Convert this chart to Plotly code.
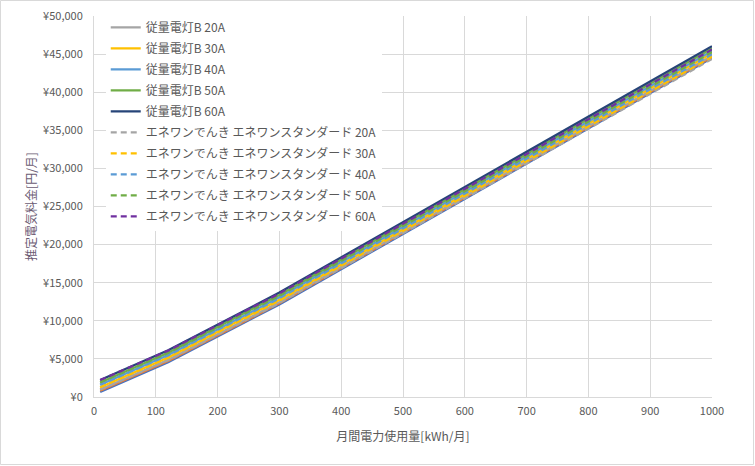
import plotly.graph_objects as go

# usage points (kWh/month)
usage = [10, 120, 300, 500, 700, 1000]

# 従量電灯B (yen/month)
b_10a = [667, 4572, 12150, 21388, 30626, 44483]
b_15a = [823, 4728, 12306, 21544, 30782, 44639]
b_20a = [979, 4884, 12462, 21700, 30938, 44795]
b_30a = [1290, 5195, 12773, 22011, 31249, 45106]
b_40a = [1602, 5507, 13085, 22323, 31561, 45418]
b_50a = [1914, 5819, 13397, 22635, 31873, 45730]
b_60a = [2226, 6131, 13709, 22947, 32185, 46042]

# エネワンでんき エネワンスタンダード (yen/month)
e_20a = [975, 4841, 12344, 21489, 30634, 44353]
e_30a = [1286, 5152, 12655, 21800, 30945, 44664]
e_40a = [1598, 5464, 12967, 22112, 31257, 44976]
e_50a = [1910, 5776, 13279, 22424, 31569, 45288]
e_60a = [2222, 6088, 13591, 22736, 31881, 45600]

x_ticks = [0, 100, 200, 300, 400, 500, 600, 700, 800, 900, 1000]

W, H = 755, 466
L, R, T, B = 94, 43, 16, 69

fig = go.Figure()

hidden = [("従量電灯B 10A", b_10a, "#4472C4"), ("従量電灯B 15A", b_15a, "#ED7D31")]
for name, ys, c in hidden:
    fig.add_trace(go.Scatter(x=usage, y=ys, name=name, mode="lines",
                             line=dict(color=c, width=2.25), showlegend=False))

solid = [("従量電灯B 20A", b_20a, "#A5A5A5"),
         ("従量電灯B 30A", b_30a, "#FFC000"),
         ("従量電灯B 40A", b_40a, "#5B9BD5"),
         ("従量電灯B 50A", b_50a, "#70AD47"),
         ("従量電灯B 60A", b_60a, "#264478")]
for i, (name, ys, c) in enumerate(solid):
    fig.add_trace(go.Scatter(x=usage, y=ys, name=name, mode="lines", legendgroup=f"s{i}",
                             line=dict(color=c, width=2.25)))

dashed = [("エネワンでんき エネワンスタンダード 20A", e_20a, "#A5A5A5"),
          ("エネワンでんき エネワンスタンダード 30A", e_30a, "#FFC000"),
          ("エネワンでんき エネワンスタンダード 40A", e_40a, "#5B9BD5"),
          ("エネワンでんき エネワンスタンダード 50A", e_50a, "#70AD47"),
          ("エネワンでんき エネワンスタンダード 60A", e_60a, "#7030A0")]
for i, (name, ys, c) in enumerate(dashed):
    fig.add_trace(go.Scatter(x=usage, y=ys, name=name, mode="lines", legendgroup=f"d{i}",
                             line=dict(color=c, width=2.25, dash="6px,4px")))

font = "Noto Sans CJK JP, sans-serif"
fig.update_layout(
    width=W, height=H,
    margin=dict(l=L, r=R, t=T, b=B, autoexpand=False),
    paper_bgcolor="white", plot_bgcolor="white",
    font=dict(family=font, size=11, color="#595959"),
    showlegend=True,
    legend=dict(x=0.019, y=1.008, xanchor="left", yanchor="top",
                bgcolor="white", font=dict(size=12, color="#595959"),
                tracegroupgap=2, itemwidth=30, groupclick="toggleitem"),
    xaxis=dict(range=[0, 1000], tickvals=x_ticks, showgrid=True, automargin=False,
               gridcolor="#D9D9D9", gridwidth=1, showline=True,
               linecolor="#D9D9D9", zeroline=False, ticks="", ticklabelstandoff=4,
               title=dict(text="月間電力使用量[kWh/月]", font=dict(size=12, color="#595959"), standoff=15)),
    yaxis=dict(range=[0, 50000], dtick=5000, tickprefix="¥", tickformat=",d", automargin=False,
               showgrid=True, gridcolor="#D9D9D9", gridwidth=1, showline=True,
               linecolor="#D9D9D9", zeroline=False, ticks="", ticklabelstandoff=8,
               title=dict(text="推定電気料金[円/月]", font=dict(size=12, color="#6B5B73"), standoff=3)),
)

pw = W - L - R
ph = H - T - B
fig.add_shape(type="rect", xref="paper", yref="paper",
              x0=-(L - 0.5) / pw, x1=1 + (R - 1.5) / pw,
              y0=-(B - 1.5) / ph, y1=1 + (T - 0.5) / ph,
              line=dict(color="#D9D9D9", width=1), layer="below")

fig.write_html("out.html", config={"displayModeBar": False},
               post_script="document.body.style.margin='0';")
